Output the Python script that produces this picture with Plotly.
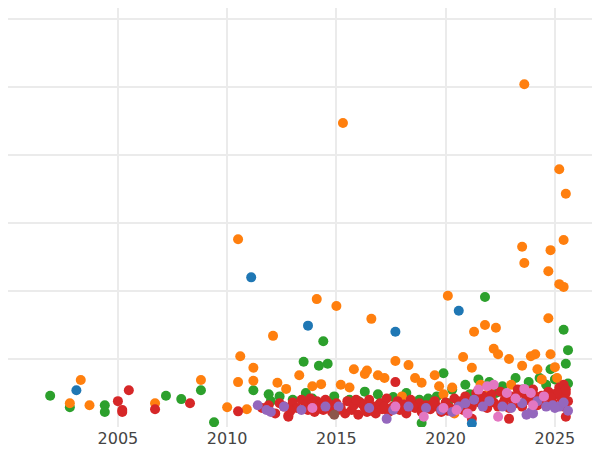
import plotly.graph_objects as go

# y is in grid units (one gridline step = 1)
blue_x = [2003.1, 2011.1, 2013.7, 2017.7, 2020.6, 2021.2]
blue_y = [0.54, 2.20, 1.49, 1.40, 1.71, 0.05]

orange_x = [2023.6, 2015.3, 2025.2, 2025.5, 2010.5, 2025.4, 2023.5, 2024.8, 2023.6, 2024.7,
            2025.2, 2025.4, 2020.1, 2014.1, 2015.0, 2016.6, 2024.7, 2021.3, 2021.8, 2022.3,
            2012.1, 2010.6, 2022.2, 2022.4, 2023.9, 2024.1, 2024.8, 2022.9, 2020.8, 2011.2,
            2015.8, 2016.3, 2016.4, 2016.9, 2017.7, 2018.3, 2019.5, 2021.2, 2023.5, 2024.2,
            2025.0, 2013.3, 2003.3, 2002.8, 2003.7, 2006.7, 2008.8, 2010.0, 2010.9, 2010.5,
            2011.2, 2012.3, 2012.7, 2013.9, 2014.3, 2015.2, 2015.6, 2017.2, 2018.6, 2018.9,
            2019.7, 2020.3, 2021.6, 2022.0, 2023.0, 2024.4, 2025.1, 2019.9, 2020.4, 2018.0]
orange_y = [5.04, 4.47, 3.79, 3.43, 2.76, 2.75, 2.65, 2.60, 2.41, 2.29,
            2.10, 2.06, 1.93, 1.88, 1.78, 1.59, 1.60, 1.40, 1.50, 1.46,
            1.34, 1.04, 1.15, 1.07, 1.04, 1.07, 1.07, 1.00, 1.03, 0.87,
            0.85, 0.78, 0.83, 0.76, 0.97, 0.91, 0.76, 0.87, 0.90, 0.85,
            0.88, 0.76, 0.69, 0.35, 0.32, 0.35, 0.69, 0.29, 0.26, 0.66,
            0.68, 0.65, 0.56, 0.60, 0.63, 0.62, 0.58, 0.72, 0.72, 0.65,
            0.60, 0.58, 0.62, 0.55, 0.62, 0.70, 0.72, 0.48, 0.20, 0.45]

green_x = [2021.8, 2025.4, 2014.4, 2025.6, 2013.5, 2014.2, 2014.6, 2024.8, 2025.5, 2019.9,
           2001.9, 2002.8, 2004.4, 2004.4, 2007.2, 2007.9, 2008.8, 2009.4, 2011.2, 2011.9,
           2012.4, 2013.0, 2013.6, 2014.9, 2015.6, 2016.3, 2016.9, 2017.6, 2018.2, 2018.9,
           2019.6, 2020.3, 2020.9, 2021.5, 2022.0, 2022.6, 2023.2, 2023.8, 2024.3, 2025.0,
           2025.6, 2012.0, 2017.0, 2018.8, 2021.1, 2023.5, 2013.9, 2020.1, 2024.6, 2025.3,
           2016.0, 2019.2, 2022.3]
green_y = [1.91, 1.43, 1.26, 1.13, 0.96, 0.90, 0.93, 0.85, 0.93, 0.79,
           0.46, 0.29, 0.32, 0.22, 0.46, 0.41, 0.54, 0.07, 0.54, 0.48,
           0.45, 0.40, 0.50, 0.45, 0.40, 0.52, 0.48, 0.44, 0.50, 0.06,
           0.45, 0.55, 0.62, 0.70, 0.66, 0.60, 0.72, 0.66, 0.72, 0.70,
           0.64, 0.38, 0.35, 0.40, 0.48, 0.55, 0.42, 0.35, 0.62, 0.48,
           0.38, 0.42, 0.50]

red_x = [2005.0, 2005.2, 2005.2, 2005.5, 2006.7, 2008.3, 2010.5,
         2011.6, 2011.9, 2012.2, 2012.4, 2012.6, 2012.8, 2013.0, 2013.2, 2013.4, 2013.6,
         2013.7, 2013.8, 2013.9, 2014.0, 2014.1, 2014.2, 2014.3, 2014.4, 2014.5, 2014.7,
         2014.8, 2015.0, 2015.2, 2015.4, 2015.5, 2015.7, 2015.8, 2016.0, 2016.1, 2016.3,
         2016.4, 2016.5, 2016.7, 2016.8, 2017.0, 2017.1, 2017.3, 2017.4, 2017.6, 2017.8,
         2017.9, 2018.1, 2018.2, 2018.4, 2018.6, 2018.8, 2018.9, 2019.1, 2019.3, 2019.5,
         2019.6, 2019.8, 2020.0, 2020.2, 2020.4, 2020.6, 2020.8, 2020.9, 2021.1, 2021.2,
         2021.4, 2021.6, 2021.8, 2021.9, 2022.1, 2022.2, 2022.4, 2022.5, 2022.7, 2022.9,
         2023.0, 2023.2, 2023.4, 2023.5, 2023.7, 2023.9, 2024.0, 2024.2, 2024.4, 2024.5,
         2024.7, 2024.9, 2025.0, 2025.2, 2025.3, 2025.4, 2025.5, 2025.6,
         2013.9, 2014.3, 2015.1, 2016.2, 2017.2, 2018.0, 2019.0, 2020.1, 2021.0, 2022.0,
         2023.1, 2024.1, 2025.1, 2025.5, 2017.7, 2012.8, 2021.2, 2022.9, 2025.5, 2014.6,
         2016.6, 2019.4, 2021.7, 2023.3, 2024.6, 2025.4, 2012.9, 2015.9, 2018.5, 2020.7,
         2022.6, 2024.8]
red_y = [0.38, 0.25, 0.22, 0.54, 0.26, 0.35, 0.23,
         0.28, 0.32, 0.20, 0.35, 0.30, 0.15, 0.36, 0.28, 0.40, 0.33,
         0.25, 0.42, 0.30, 0.22, 0.38, 0.27, 0.34, 0.25, 0.40, 0.30,
         0.22, 0.35, 0.28, 0.20, 0.38, 0.25, 0.32, 0.18, 0.36, 0.28,
         0.22, 0.40, 0.30, 0.20, 0.35, 0.26, 0.42, 0.22, 0.30, 0.38,
         0.25, 0.33, 0.20, 0.40, 0.28, 0.35, 0.22, 0.32, 0.26, 0.38,
         0.30, 0.22, 0.36, 0.28, 0.42, 0.32, 0.25, 0.45, 0.38, 0.30,
         0.50, 0.35, 0.42, 0.28, 0.48, 0.36, 0.30, 0.52, 0.40, 0.28,
         0.45, 0.35, 0.50, 0.30, 0.42, 0.38, 0.55, 0.32, 0.46, 0.40,
         0.52, 0.36, 0.48, 0.58, 0.42, 0.62, 0.50, 0.38,
         0.34, 0.28, 0.25, 0.33, 0.30, 0.26, 0.30, 0.24, 0.33, 0.40,
         0.38, 0.45, 0.50, 0.55, 0.66, 0.17, 0.12, 0.12, 0.15, 0.36,
         0.24, 0.34, 0.46, 0.55, 0.45, 0.30, 0.24, 0.40, 0.30, 0.38,
         0.34, 0.44]

purple_x = [2011.4, 2011.8, 2012.0, 2012.6, 2013.4, 2014.5, 2015.1, 2016.5, 2017.3, 2017.6,
            2018.3, 2019.1, 2019.8, 2020.3, 2020.6, 2020.9, 2021.3, 2022.0, 2022.6, 2023.0,
            2023.5, 2023.9, 2024.2, 2024.6, 2024.9, 2025.2, 2025.4, 2025.6, 2023.7, 2024.0,
            2025.0, 2021.7]
purple_y = [0.32, 0.25, 0.22, 0.30, 0.25, 0.30, 0.30, 0.28, 0.12, 0.25,
            0.30, 0.28, 0.25, 0.22, 0.30, 0.35, 0.40, 0.38, 0.30, 0.28,
            0.35, 0.22, 0.38, 0.30, 0.32, 0.30, 0.36, 0.24, 0.18, 0.20,
            0.28, 0.30]

pink_x = [2013.9, 2017.7, 2019.0, 2019.9, 2021.5, 2021.9, 2022.2, 2022.8, 2023.2, 2023.6,
          2024.0, 2024.5, 2022.4, 2021.0, 2023.9, 2020.5]
pink_y = [0.28, 0.30, 0.15, 0.28, 0.55, 0.60, 0.62, 0.50, 0.42, 0.56,
          0.32, 0.45, 0.15, 0.20, 0.50, 0.25]

brown_x = [2014.9]
brown_y = [0.18]

series = [
    (green_x, green_y, "#2ca02c"),
    (orange_x, orange_y, "#ff7f0e"),
    (red_x, red_y, "#d62728"),
    (blue_x, blue_y, "#1f77b4"),
    (purple_x, purple_y, "#9467bd"),
    (pink_x, pink_y, "#e377c2"),
    (brown_x, brown_y, "#8c564b"),
]

fig = go.Figure()
for xs, ys, c in series:
    fig.add_trace(go.Scatter(x=xs, y=ys, mode="markers",
                             marker=dict(color=c, size=10)))

fig.update_layout(
    width=600, height=450,
    margin=dict(l=0, r=0, t=0, b=31),
    plot_bgcolor="white", paper_bgcolor="white",
    showlegend=False,
    font=dict(family="DejaVu Sans", size=16, color="#444"),
)
fig.update_xaxes(range=[1999.97, 2027.43], tickvals=[2000, 2005, 2010, 2015, 2020, 2025],
                 ticktext=["", "2005", "2010", "2015", "2020", "2025"],
                 showgrid=True, gridcolor="#ebebeb", gridwidth=2, zeroline=False)
fig.update_yaxes(range=[0, 6.16], dtick=1, showticklabels=False,
                 showgrid=True, gridcolor="#ebebeb", gridwidth=2, zeroline=False)
fig.write_html("out.html")
